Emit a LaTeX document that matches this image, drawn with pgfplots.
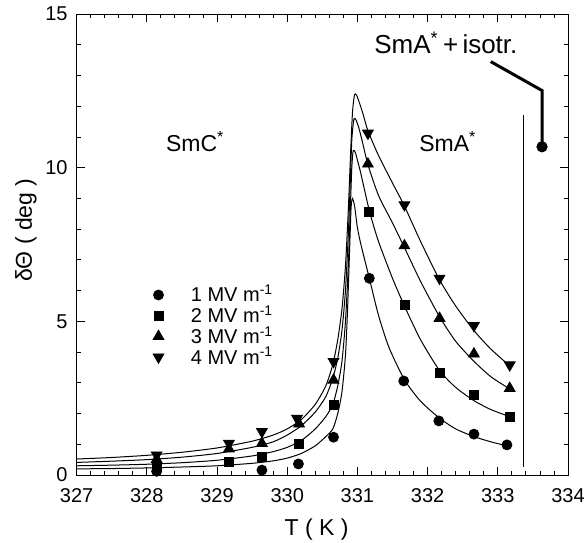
\documentclass[border=0pt]{standalone}
\usepackage{pgfplots}
\pgfplotsset{compat=1.18}
\usepackage{fontspec}
\setmainfont{Liberation Sans}
\usetikzlibrary{calc}

\begin{document}
\begin{tikzpicture}
\begin{axis}[
 scale only axis, width=245.7pt, height=230.5pt,
 xmin=327, xmax=334, ymin=0, ymax=15,
 xtick={327,328,329,330,331,332,333,334}, ytick={0,5,10,15},
 minor x tick num=4, minor y tick num=4,
 tick align=inside, major tick length=4pt, minor tick length=2pt,
 axis line style={line width=0.5pt},
 every tick/.style={black, line width=0.4pt},
 /pgf/number format/assume math mode=true,
 /pgf/number format/1000 sep={},
 ticklabel style={font=\fontsize{10}{12}\selectfont},
 xticklabel style={yshift=-3pt},
 yticklabel style={xshift=-1pt},
 xlabel={T ( K )}, ylabel={δΘ ( deg )},
 label style={font=\fontsize{11.5}{13}\selectfont},
 xlabel style={at={(axis description cs:0.4885,-0.119)}, anchor=center},
 ylabel style={at={(axis description cs:-0.103,0.531)}, anchor=center},
 clip=false,
 legend cell align=left,
 legend style={at={(axis cs:327.99,6.15)}, anchor=north west, draw=none, fill=none,
   inner sep=0pt, outer sep=0pt, font=\fontsize{10}{12}\selectfont, row sep=1.35pt,
   nodes={inner sep=0pt, text height=8pt, text depth=1pt}},
 legend image code/.code={\draw[#1] plot coordinates {(0pt,0pt)}; \path (-6pt,-3pt) (16pt,3pt);},
]
% data points
\addplot[only marks, mark=*, mark size=2.5pt, black] coordinates {
(328.14,0.12) (329.64,0.16) (330.16,0.36) (330.66,1.23) (331.17,6.40)
(331.66,3.06) (332.16,1.76) (332.66,1.33) (333.13,0.98)};
\addlegendentry{1 MV m\textsuperscript{-1}}
\addplot[only marks, mark=square*, mark size=2.25pt, black] coordinates {
(328.14,0.27) (329.17,0.43) (329.64,0.58) (330.16,1.00) (330.66,2.28)
(331.17,8.57) (331.67,5.53) (332.17,3.33) (332.66,2.60) (333.17,1.90)};
\addlegendentry{2 MV m\textsuperscript{-1}}
\addplot[only marks, mark=triangle*, mark size=3.1pt, black] coordinates {
(328.14,0.51) (329.17,0.85) (329.64,1.03) (330.17,1.66) (330.66,3.09)
(331.15,10.12) (331.67,7.46) (332.17,5.10) (332.66,3.94) (333.17,2.82)};
\addlegendentry{3 MV m\textsuperscript{-1}}
\addplot[only marks, mark=triangle*, mark size=3.1pt, mark options={rotate=180}, black] coordinates {
(328.14,0.65) (329.17,1.03) (329.64,1.41) (330.14,1.84) (330.66,3.69)
(331.15,11.12) (331.67,8.79) (332.17,6.40) (332.66,4.86) (333.17,3.58)};
\addlegendentry{4 MV m\textsuperscript{-1}}
% fit curves
\addplot[forget plot, black, line width=0.5pt, smooth, tension=0.4] coordinates {
(327,0.20) (327.5,0.21) (328,0.23) (328.5,0.26) (329,0.30) (329.5,0.38) (329.8,0.46)
(330,0.55) (330.2,0.70) (330.4,0.95) (330.55,1.25) (330.65,1.50) (330.72,2.00)
(330.78,2.70) (330.83,3.90) (330.86,5.40) (330.89,7.40) (330.91,8.70) (330.93,9.00)
(330.96,8.75) (331.0,8.05) (331.05,7.50) (331.17,6.40) (331.3,5.20) (331.45,4.15)
(331.67,3.10) (331.9,2.40) (332.17,1.85) (332.4,1.50) (332.66,1.25) (332.9,1.08) (333.13,0.95)};
\addplot[forget plot, black, line width=0.5pt, smooth, tension=0.4] coordinates {
(327,0.30) (327.5,0.32) (328,0.35) (328.5,0.40) (329,0.48) (329.5,0.62) (329.8,0.76)
(330,0.90) (330.2,1.12) (330.4,1.50) (330.55,1.90) (330.65,2.30) (330.72,2.90)
(330.78,3.70) (330.83,5.00) (330.87,6.80) (330.9,8.70) (330.92,10.00) (330.94,10.55)
(330.97,10.50) (331.0,10.25) (331.05,9.80) (331.17,8.60) (331.3,7.60) (331.5,6.40)
(331.67,5.50) (331.9,4.40) (332.17,3.40) (332.4,2.85) (332.66,2.42) (332.9,2.13) (333.17,1.90)};
\addplot[forget plot, black, line width=0.5pt, smooth, tension=0.4] coordinates {
(327,0.41) (327.5,0.45) (328,0.50) (328.5,0.58) (329,0.70) (329.5,0.90) (329.8,1.08)
(330,1.30) (330.2,1.60) (330.4,2.05) (330.55,2.55) (330.65,3.15) (330.72,3.80)
(330.78,4.70) (330.83,6.00) (330.87,7.80) (330.9,9.60) (330.92,10.90) (330.95,11.58)
(330.98,11.55) (331.02,11.30) (331.07,10.85) (331.15,10.10) (331.3,9.10) (331.5,8.20)
(331.67,7.40) (331.9,6.30) (332.17,5.15) (332.4,4.35) (332.66,3.70) (332.9,3.20) (333.17,2.80)};
\addplot[forget plot, black, line width=0.5pt, smooth, tension=0.4] coordinates {
(327,0.52) (327.5,0.57) (328,0.64) (328.5,0.74) (329,0.88) (329.5,1.10) (329.8,1.30)
(330,1.50) (330.2,1.80) (330.4,2.30) (330.55,2.90) (330.65,3.60) (330.72,4.40)
(330.78,5.40) (330.83,6.80) (330.87,8.60) (330.9,10.30) (330.93,11.80) (330.96,12.38)
(330.99,12.35) (331.03,12.10) (331.08,11.75) (331.15,11.20) (331.3,10.40) (331.5,9.50)
(331.67,8.75) (331.9,7.60) (332.17,6.35) (332.4,5.50) (332.66,4.70) (332.9,4.10) (333.17,3.55)};
% vertical line
\addplot[forget plot, black, line width=0.6pt] coordinates {(333.37,0.25) (333.37,11.7)};
% annotation pointer
\addplot[forget plot, black, line width=1.5pt] coordinates {(332.90,13.45) (333.63,12.51) (333.63,10.68)};
\addplot[forget plot, only marks, mark=*, mark size=2.6pt, black] coordinates {(333.63,10.68)};
% labels
\node[font=\fontsize{11.5}{13}\selectfont] at (axis cs:328.69,10.84) {SmC\textsuperscript{*}};
\node[font=\fontsize{11.5}{13}\selectfont] at (axis cs:332.29,10.84) {SmA\textsuperscript{*}};
\node[font=\fontsize{13}{15}\selectfont] at (axis cs:332.26,14.06) {SmA\textsuperscript{*}\,+\,isotr.};
\end{axis}
\pgfresetboundingbox
\path[use as bounding box] ($(current axis.south west)+(-38.3pt,-33.5pt)$) rectangle ($(current axis.north east)+(8pt,7pt)$);
\end{tikzpicture}
\end{document}
